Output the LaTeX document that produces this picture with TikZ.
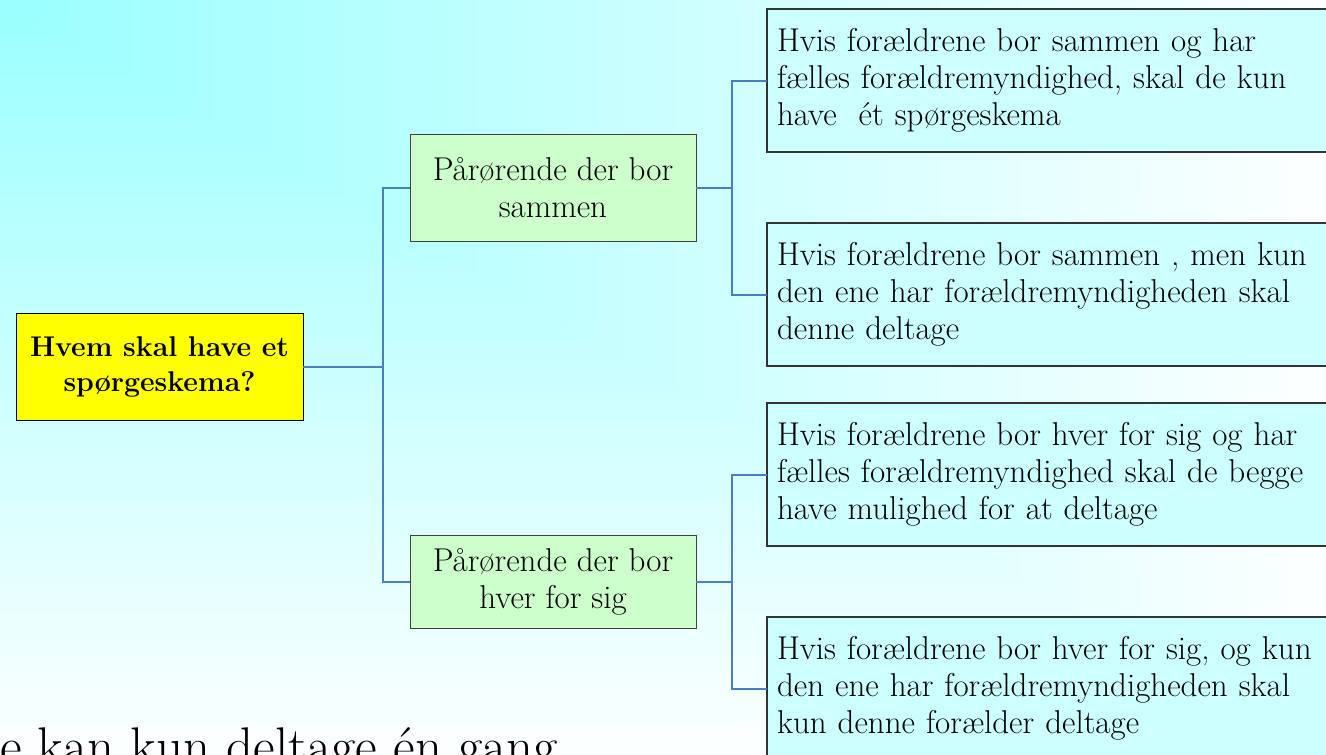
\documentclass[tikz,border=0pt]{standalone}
\usetikzlibrary{trees,shadows}
\definecolor{bgtop}{RGB}{153,255,255}
\definecolor{bgmid}{RGB}{252,255,255}
\definecolor{rootfill}{RGB}{255,255,0}
\definecolor{groupfill}{RGB}{204,255,204}
\definecolor{infofill}{RGB}{204,255,255}
\definecolor{linkblue}{RGB}{74,126,190}
\begin{document}
\begin{tikzpicture}[x=1pt, y=1pt, grow'=right,
  boxshadow/.style={drop shadow={shadow xshift=1.2pt, shadow yshift=-1.2pt, fill=black, opacity=0.3}},
  rootbox/.style={draw=black, fill=rootfill, boxshadow, minimum width=287pt, minimum height=107pt, align=center, font=\fontsize{28.5}{35}\selectfont\bfseries},
  groupbox/.style={draw=black!75, fill=groupfill, boxshadow, minimum width=286pt, minimum height=107pt, align=center, font=\fontsize{33}{37}\selectfont},
  infobox/.style={draw=black!80, fill=infofill, boxshadow, text width=570pt, inner xsep=10pt, minimum height=143pt, align=left, font=\fontsize{33}{37}\selectfont},
  edge from parent/.style={draw=linkblue, line width=2pt},
  level 1/.style={sibling distance=394pt, level distance=393.5pt,
    edge from parent path={(\tikzparentnode.east) -- ++(80pt,0) |- (\tikzchildnode.west)}},
  level 2/.style={sibling distance=214pt, level distance=509pt,
    edge from parent path={(\tikzparentnode.east) -- ++(36pt,0) |- (\tikzchildnode.west)}}]
\useasboundingbox (0,0) rectangle (1326,-755);
\clip (0,0) rectangle (1326,-755);
\foreach \t in {100,99,...,1}
  \fill [bgmid!\t!bgtop] (0,0) rectangle (13.26*\t,-7.55*\t);
\node [rootbox] (root) at (159.5,-366.5) {Hvem skal have et\\spørgeskema?}
  child [yshift=-18pt] {
    node [groupbox] (together) {Pårørende der bor\\sammen}
    child {
      node [infobox] (jointtogether) {Hvis forældrene bor sammen og har\\fælles forældremyndighed, skal de kun\\have\ \ ét spørgeskema}
    }
    child {
      node [infobox] (soletogether) {Hvis forældrene bor sammen , men kun\\den ene har forældremyndigheden skal\\denne deltage}
    }
  }
  child [yshift=-18pt] {
    node [groupbox, minimum height=93pt] (apart) {Pårørende der bor\\hver for sig}
    child {
      node [infobox] (jointapart) {Hvis forældrene bor hver for sig og har\\fælles forældremyndighed skal de begge\\have mulighed for at deltage}
    }
    child {
      node [infobox] (soleapart) {Hvis forældrene bor hver for sig, og kun\\den ene har forældremyndigheden skal\\kun denne forælder deltage}
    }
  };
\node [anchor=base west, inner sep=0pt, font=\fontsize{53}{60}\selectfont] (note) at (0,-764) {e kan kun deltage én gang};
\end{tikzpicture}
\end{document}
